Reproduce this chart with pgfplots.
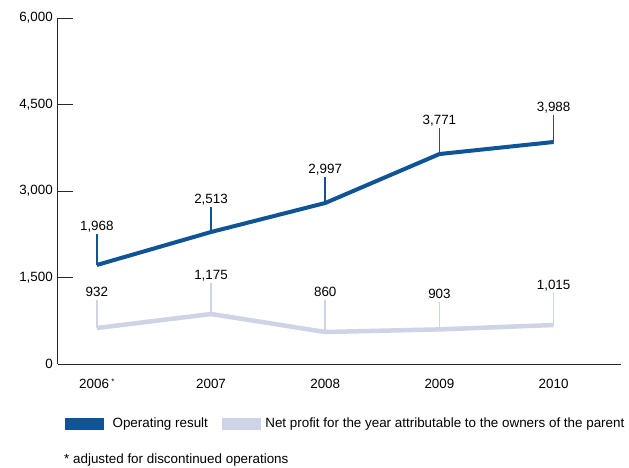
\documentclass[border=0pt]{standalone}
\usepackage{pgfplots}
\pgfplotsset{compat=1.18}
\usepackage{fontspec}
\setmainfont{Liberation Sans}
\definecolor{opblue}{RGB}{14,84,150}
\definecolor{netlav}{RGB}{206,211,230}
\definecolor{axgray}{RGB}{40,40,40}
\newcommand{\fs}{\fontsize{13.4}{16}\selectfont}
\begin{document}
\begin{tikzpicture}
\useasboundingbox (-58pt,-103pt) rectangle (571pt,364pt);
\begin{axis}[
  at={(0pt,0pt)}, anchor=origin,
  scale only axis, width=563pt, height=346pt,
  xmin=2005.66, xmax=2010.59, ymin=0, ymax=6000,
  axis lines*=left,
  axis line style={axgray, line width=1pt},
  xtick={2006,2007,2008,2009,2010},
  xticklabels={2006\,\raisebox{4pt}{\footnotesize *},2007,2008,2009,2010},
  xtick style={draw=none},
  ytick={0,1500,3000,4500,6000},
  yticklabels={0,{1,500},{3,000},{4,500},{6,000}},
  tick align=inside, ytick pos=left,
  major tick length=15pt,
  ytick style={axgray, line width=1pt},
  yticklabel style={inner sep=0pt, xshift=-5pt, font=\fs},
  xticklabel style={inner sep=0pt, anchor=base, yshift=-24pt, font=\fs},
  clip=false,
  legend columns=2,
  legend style={draw=none, fill=none, at={(axis description cs:0.01243,-0.172)}, anchor=west,
    font=\fs, inner sep=0pt,
    /tikz/every even column/.append style={column sep=14pt},
    nodes={inner sep=0pt, anchor=west}},
  legend cell align=left,
]
\addlegendimage{legend image code/.code={\fill[opblue] (0pt,-5.5pt) rectangle (38pt,5.5pt);}}
\addlegendentry{\hspace{9pt}Operating result}
\addlegendimage{legend image code/.code={\fill[netlav] (0pt,-5.5pt) rectangle (38pt,5.5pt);}}
\addlegendentry{\hspace{5pt}Net profit for the year attributable to the owners of the parent}

% stems
\addplot[netlav, line width=1.6pt, draw=none, forget plot,
  error bars/.cd, y dir=plus, y explicit, error mark=none,
  error bar style={netlav, line width=1.6pt}]
  table[x=x, y=y, y error=e] {
  x y e
  2006 624 490
  2007 867 540
  2008 555 555
  2009 600 470
  2010 676 560
  };
\addplot[opblue, line width=1.6pt, draw=none, forget plot,
  error bars/.cd, y dir=plus, y explicit, error mark=none,
  error bar style={opblue, line width=1.6pt}]
  table[x=x, y=y, y error=e] {
  x y e
  2006 1717 530
  2007 2289 430
  2008 2792 450
  2009 3641 450
  2010 3850 470
  };
% lines
\addplot[netlav, line width=4.5pt, line join=round, forget plot] table {
  2006 624
  2007 867
  2008 555
  2009 600
  2010 676
  };
\addplot[opblue, line width=4pt, line join=round, forget plot] table {
  2006 1717
  2007 2289
  2008 2792
  2009 3641
  2010 3850
  };
% labels
\addplot[draw=none, forget plot, nodes near coords, point meta=explicit symbolic,
  every node near coord/.append style={anchor=base, inner sep=0pt, yshift=3.5pt, black, font=\fs}]
  table[meta=l] {
  x y l
  2006 1114 932
  2007 1407 {1,175}
  2008 1110 860
  2009 1070 903
  2010 1236 {1,015}
  };
\addplot[draw=none, forget plot, nodes near coords, point meta=explicit symbolic,
  every node near coord/.append style={anchor=base, inner sep=0pt, yshift=3.5pt, black, font=\fs}]
  table[meta=l] {
  x y l
  2006 2247 {1,968}
  2007 2719 {2,513}
  2008 3242 {2,997}
  2009 4091 {3,771}
  2010 4320 {3,988}
  };
\node[anchor=west, inner sep=0pt, font=\fs] at (axis description cs:0.01066,-0.2775) {* adjusted for discontinued operations};
\end{axis}
\end{tikzpicture}
\end{document}
